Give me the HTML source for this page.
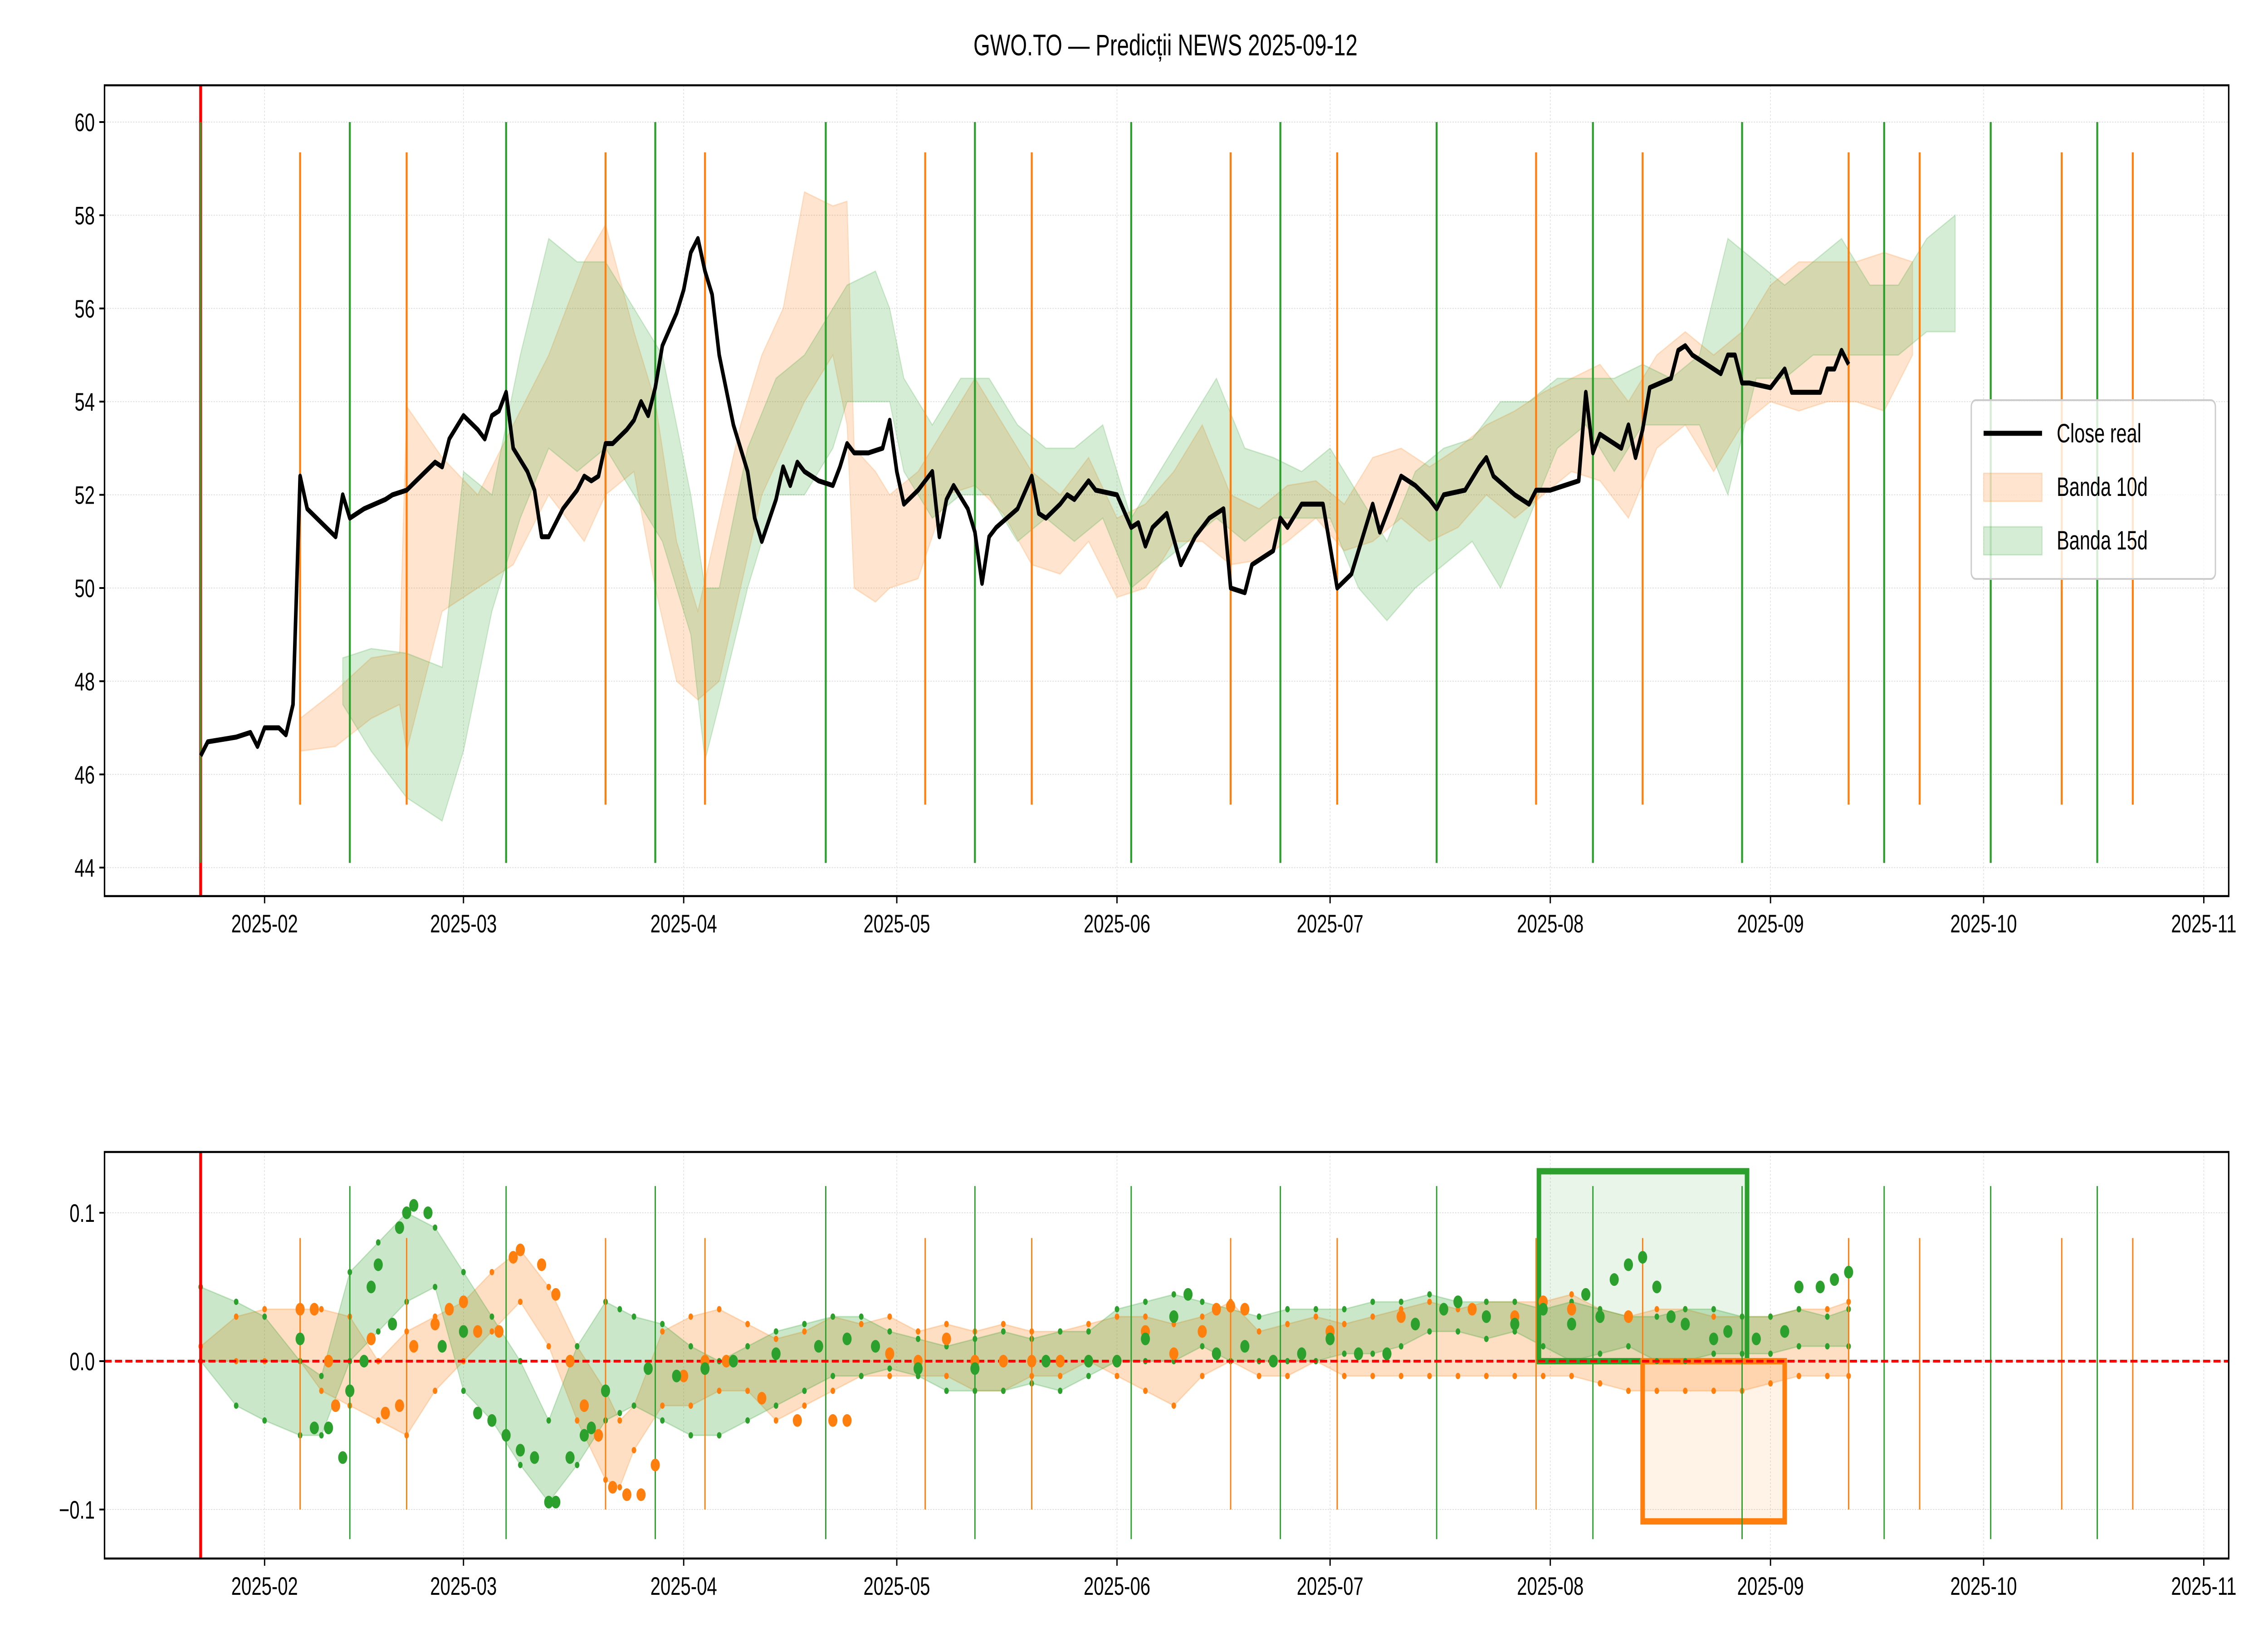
<!DOCTYPE html>
<html><head><meta charset="utf-8">
<style>html,body{margin:0;padding:0;background:#fff;width:100%;height:100%;overflow:hidden}svg{display:block;width:100vw;height:100vh}text{font-family:"Liberation Sans","DejaVu Sans",sans-serif}</style>
</head><body>
<svg id="chart" viewBox="0 0 6986 3619" preserveAspectRatio="none" xmlns="http://www.w3.org/2000/svg">
<rect width="6986" height="3619" fill="#fff"/>
<text x="3590" y="122" font-size="66" text-anchor="middle">GWO.TO — Predicții NEWS 2025-09-12</text>
<g id="gtop"></g><g id="gbot"></g>
</svg>
<script>
// ---- data (days from 2025-02-01) ----
const closeDays=[-9,-8,-6,-4,-2,-1,0,2,3,4,5,6,8,10,11,12,14,17,18,20,22,24,25,26,28,30,31,32,33,34,35,37,38,39,40,42,44,45,46,47,48,49,51,52,53,54,55,56,58,59,60,61,62,63,64,66,67,68,69,70,72,73,74,75,76,78,80,81,82,83,85,87,88,89,90,92,93,94,95,96,97,99,100,101,102,103,106,108,109,110,112,113,114,116,117,120,122,123,124,125,127,129,131,133,135,136,138,139,142,143,144,146,149,151,153,156,157,158,160,162,164,165,166,169,171,172,173,176,178,179,181,185,186,187,188,190,191,192,193,194,195,198,199,200,201,202,205,206,207,208,209,212,214,215,219,220,221,222,223];
const closeVals=[46.4,46.7,46.75,46.8,46.9,46.6,47.0,47.0,46.85,47.5,52.4,51.7,51.4,51.1,52.0,51.5,51.7,51.9,52.0,52.1,52.4,52.7,52.6,53.2,53.7,53.4,53.2,53.7,53.8,54.2,53.0,52.5,52.1,51.1,51.1,51.7,52.1,52.4,52.3,52.4,53.1,53.1,53.4,53.6,54.0,53.7,54.3,55.2,55.9,56.4,57.2,57.5,56.8,56.3,55.0,53.5,53.0,52.5,51.5,51.0,51.9,52.6,52.2,52.7,52.5,52.3,52.2,52.6,53.1,52.9,52.9,53.0,53.6,52.5,51.8,52.1,52.3,52.5,51.1,51.9,52.2,51.7,51.2,50.1,51.1,51.3,51.7,52.4,51.6,51.5,51.8,52.0,51.9,52.3,52.1,52.0,51.3,51.4,50.9,51.3,51.6,50.5,51.1,51.5,51.7,50.0,49.9,50.5,50.8,51.5,51.3,51.8,51.8,50.0,50.3,51.8,51.2,51.6,52.4,52.2,51.9,51.7,52.0,52.1,52.6,52.8,52.4,52.0,51.8,52.1,52.1,52.3,54.2,52.9,53.3,53.1,53.0,53.5,52.8,53.4,54.3,54.5,55.1,55.2,55.0,54.9,54.6,55.0,55.0,54.4,54.4,54.3,54.7,54.2,54.2,54.7,54.7,55.1,54.8];
const b10Days=[5,10,15,19,20,25,30,35,40,45,48,52,55,58,61,64,67,70,73,76,80,82,83,86,88,92,96,100,104,108,112,116,120,124,128,132,136,140,144,148,152,156,160,164,168,172,176,180,184,188,192,196,200,204,208,212,216,220,224,228,232];
const b10Lo=[46.5,46.6,47.2,47.5,46.5,49.5,50,50.5,52,51,52,52.5,50,48,47.6,48,50,52,53,54,55,53.5,50,49.7,50,50.2,52,52.2,51.6,50.5,50.3,51,49.8,50,51,51,50.5,50.6,51,51.5,50.8,51,51.5,51,51.3,52,51.5,52,52.5,52.3,51.5,53,53.5,52.5,53.5,54,53.8,54,54,53.8,55];
const b10Hi=[47.2,47.8,48.5,48.6,53.9,52.8,52,53.5,55,57,57.8,55.5,54,51,49.5,51.5,53.5,55,56,58.5,58.2,58.3,53,52.5,52,52.5,53.5,54.5,53.5,52.5,52,52.8,51.5,51.8,52.5,53.5,52,51.7,52.2,52.3,51.8,52.8,53,52.6,53,53.5,53.8,54.2,54.5,54.8,54,55,55.5,55,55.5,56.5,57,57,57,57.2,57];
const b15Days=[11,15,20,25,28,32,36,40,44,48,52,56,60,62,64,68,72,76,80,82,86,88,90,94,98,102,106,110,114,118,122,126,130,134,138,142,146,150,154,158,162,166,170,174,178,182,186,190,194,198,202,206,210,214,218,222,226,230,234,238];
const b15Lo=[47.5,46.5,45.5,45,46.5,49.5,51.5,53,52.5,53,52,51,49,46.3,47.5,50,52,52,53,54,54,54,52.5,51.5,52,52,51,51.5,51,51.5,50,50.5,51,51.5,51,51.5,51.5,51.5,50,49.3,50,50.5,51,50,51.5,53,53.5,52.5,53.5,53.5,53.5,52,54.5,54.5,55,55,55,55,55.5,55.5];
const b15Hi=[48.5,48.7,48.6,48.3,52.5,52,55,57.5,57,57,56,55,52,50,50,53,54.5,55,56,56.5,56.8,56,54.5,53.5,54.5,54.5,53.5,53,53,53.5,51.5,52.5,53.5,54.5,53,52.8,52.5,53,52,51,52.5,53,53.2,54,54,54.5,54.5,54.5,54.8,54.5,55,57.5,57,56.5,57,57.5,56.5,56.5,57.5,58];
const ev10Days=[5,20,48,62,93,108,136,151,179,194,223,233,253,263];
const ev15Days=[12,34,55,79,100,122,143,165,187,208,228,243,258];
const startDay=-9;
const xTicks=["2025-02","2025-03","2025-04","2025-05","2025-06","2025-07","2025-08","2025-09","2025-10","2025-11"];
const xTickDays=[0,28,59,89,120,150,181,212,242,273];
const yTicksTop=[44,46,48,50,52,54,56,58,60];
const yTicksBot=[-0.1,0.0,0.1];
// bottom panel
const r10Days=[-9,-4,0,5,8,12,16,20,24,28,32,36,40,44,48,50,52,56,60,64,68,72,76,80,84,88,92,96,100,104,108,112,116,120,124,128,132,136,140,144,148,152,156,160,164,168,172,176,180,184,188,192,196,200,204,208,212,216,220,223];
const r10Lo=[0,0,0,0,-0.02,-0.03,-0.04,-0.05,-0.02,0,0.02,0.04,0.01,-0.04,-0.08,-0.085,-0.06,-0.03,-0.03,-0.02,-0.02,-0.04,-0.03,-0.02,-0.01,-0.01,-0.01,-0.01,-0.02,-0.02,-0.01,-0.01,0,-0.01,-0.02,-0.03,-0.01,0,-0.01,-0.01,0,-0.01,-0.01,-0.01,-0.01,-0.01,-0.01,-0.01,-0.01,-0.01,-0.015,-0.02,-0.02,-0.02,-0.02,-0.02,-0.015,-0.01,-0.01,-0.01];
const r10Hi=[0.01,0.03,0.035,0.035,0.035,0.03,0,0.02,0.03,0.04,0.06,0.075,0.05,0.01,-0.02,-0.04,-0.03,0.02,0.03,0.035,0.025,0.015,0.02,0.03,0.025,0.03,0.02,0.025,0.02,0.025,0.02,0.02,0.025,0.03,0.03,0.025,0.03,0.04,0.02,0.025,0.03,0.025,0.03,0.035,0.04,0.035,0.04,0.04,0.04,0.045,0.035,0.03,0.035,0.035,0.03,0.03,0.03,0.035,0.035,0.04];
const r15Days=r10Days;
const r15Lo=[0,-0.03,-0.04,-0.05,-0.05,0,0.02,0.04,0.05,-0.02,-0.04,-0.07,-0.095,-0.07,-0.04,-0.035,-0.03,-0.04,-0.05,-0.05,-0.04,-0.03,-0.02,-0.01,-0.01,-0.005,-0.01,-0.02,-0.02,-0.02,-0.015,-0.02,-0.01,0,0,0,0.01,0,0,0,0,0.005,0.005,0.01,0.02,0.02,0.015,0.02,0.01,0,0.005,0.01,0,0,0.005,0.005,0.005,0.01,0.01,0.01];
const r15Hi=[0.05,0.04,0.03,0,-0.01,0.06,0.08,0.1,0.09,0.06,0.03,0,-0.04,0.01,0.04,0.035,0.03,0.025,0.01,0,0.01,0.02,0.025,0.03,0.03,0.02,0.015,0.01,0.015,0.02,0.015,0.02,0.02,0.035,0.04,0.045,0.04,0.035,0.03,0.035,0.035,0.035,0.04,0.04,0.045,0.04,0.04,0.04,0.035,0.04,0.035,0.03,0.03,0.035,0.035,0.03,0.03,0.035,0.03,0.035];
const dot10Days=[5,7,9,10,12,15,17,19,21,24,26,28,30,33,35,36,39,41,43,45,47,49,51,53,55,59,62,65,70,75,80,82,88,92,96,100,104,108,112,116,120,124,128,132,134,136,138,150,160,170,176,180,184,188,192];
const dot10Vals=[0.035,0.035,0,-0.03,-0.02,0.015,-0.035,-0.03,0.01,0.025,0.035,0.04,0.02,0.02,0.07,0.075,0.065,0.045,0,-0.03,-0.05,-0.085,-0.09,-0.09,-0.07,-0.01,0,0,-0.025,-0.04,-0.04,-0.04,0.005,0,0.015,0,0,0,0,0,0,0.02,0.005,0.02,0.035,0.037,0.035,0.02,0.03,0.035,0.03,0.04,0.035,0.03,0.03];
const dot15Days=[5,7,9,11,12,14,15,16,18,19,20,21,23,25,28,30,32,34,36,38,40,41,43,45,46,48,54,58,62,66,72,78,82,86,92,100,110,116,120,124,128,130,134,138,142,146,150,154,158,162,166,168,172,176,180,184,186,188,190,192,194,196,198,200,204,206,210,214,216,219,221,223];
const dot15Vals=[0.015,-0.045,-0.045,-0.065,-0.02,0,0.05,0.065,0.025,0.09,0.1,0.105,0.1,0.01,0.02,-0.035,-0.04,-0.05,-0.06,-0.065,-0.095,-0.095,-0.065,-0.05,-0.045,-0.02,-0.005,-0.01,-0.005,0,0.005,0.01,0.015,0.01,-0.005,-0.005,0,0,0,0.015,0.03,0.045,0.005,0.01,0,0.005,0.015,0.005,0.005,0.025,0.035,0.04,0.03,0.025,0.035,0.025,0.045,0.03,0.055,0.065,0.07,0.05,0.03,0.025,0.015,0.02,0.015,0.02,0.05,0.05,0.055,0.06];
const rect15=[179.4,208.7,0.128];
const rect10=[194,214,-0.108];

const NS='http://www.w3.org/2000/svg';
const OR='#ff7f0e',GR='#2ca02c';
const AL=322,AR=6865;
const T1=188,B1=1975,T2=2539,B2=3435;
function X(d){return 815+d*21.88;}
function Y1(v){return 269+(60-v)*102.7;}
function Y2(v){return 3000-v*3270;}
function mk(p,tag,a){const e=document.createElementNS(NS,tag);for(const k in a)e.setAttribute(k,a[k]);p.appendChild(e);return e;}
const gTop=document.getElementById('gtop'),gBot=document.getElementById('gbot');

function axesFrame(g,T,B,yt,Y){
  xTickDays.forEach(d=>{const l=mk(g,'line',{x1:X(d),x2:X(d),y1:T,y2:B,stroke:'#ddd','stroke-width':2,'stroke-dasharray':'4 4'});
  
  });
  yt.forEach(v=>{const l=mk(g,'line',{x1:AL,x2:AR,y1:Y(v),y2:Y(v),stroke:'#ddd','stroke-width':2,'stroke-dasharray':'4 4'});
  
  });
}
function axesTicks(g,T,B,yt,Y,fmt,nm){
  const fr=mk(g,'rect',{x:AL,y:T,width:AR-AL,height:B-T,fill:'none',stroke:'#000','stroke-width':4.5});
  
  
  xTickDays.forEach((d,i)=>{mk(g,'line',{x1:X(d),x2:X(d),y1:B,y2:B+16,stroke:'#000','stroke-width':4});
    const t=mk(g,'text',{x:X(d),y:B+80,'font-size':56,'text-anchor':'middle'});t.textContent=xTicks[i];
    
    });
  yt.forEach(v=>{mk(g,'line',{x1:AL-16,x2:AL,y1:Y(v),y2:Y(v),stroke:'#000','stroke-width':4});
    const t=mk(g,'text',{x:AL-30,y:Y(v)+20,'font-size':56,'text-anchor':'end'});t.textContent=fmt(v);
    
    });
}
function band(g,days,lo,hi,Y,col,op,nm){
  let d='M'+days.map((x,i)=>X(x)+','+Y(hi[i])).join('L');
  for(let i=days.length-1;i>=0;i--)d+='L'+X(days[i])+','+Y(lo[i]);
  const p=mk(g,'path',{d:d+'Z',fill:col,'fill-opacity':op,stroke:col,'stroke-opacity':op,'stroke-width':3});
  
  
}
// ---- TOP ----
axesFrame(gTop,T1,B1,yTicksTop,Y1);
band(gTop,b10Days,b10Lo,b10Hi,Y1,OR,0.2,'band-10d');
band(gTop,b15Days,b15Lo,b15Hi,Y1,GR,0.2,'band-15d');
ev10Days.forEach(d=>{const l=mk(gTop,'line',{x1:X(d),x2:X(d),y1:Y1(59.35),y2:Y1(45.35),stroke:OR,'stroke-width':6});
  
  });
ev15Days.forEach(d=>{const l=mk(gTop,'line',{x1:X(d),x2:X(d),y1:Y1(60),y2:Y1(44.1),stroke:GR,'stroke-width':6});
  
  });
{const l=mk(gTop,'line',{x1:X(startDay),x2:X(startDay),y1:T1,y2:B1,stroke:'#f00','stroke-width':9});
 
 
 const l2=mk(gTop,'line',{x1:X(startDay),x2:X(startDay),y1:Y1(60),y2:Y1(44.1),stroke:GR,'stroke-width':5});
 
 }
{const p=mk(gTop,'path',{d:'M'+closeDays.map((d,i)=>X(d)+','+Y1(closeVals[i])).join('L'),fill:'none',stroke:'#000','stroke-width':11,'stroke-linejoin':'round'});
 
 }
axesTicks(gTop,T1,B1,yTicksTop,Y1,v=>String(v),'top');
// legend
{const g=mk(gTop,'g',{});
 
 
 mk(g,'rect',{x:6072,y:882,width:752,height:394,rx:14,fill:'#fff','fill-opacity':0.8,stroke:'#ccc','stroke-width':4});
 const items=[['Close real','line','#000'],['Banda 10d','patch',OR],['Banda 15d','patch',GR]];
 items.forEach((it,i)=>{const y=955+i*118;
  const e=mk(g,'g',{});
  
  
  if(it[1]=='line')mk(e,'line',{x1:6110,x2:6290,y1:y,y2:y,stroke:'#000','stroke-width':11});
  else mk(e,'rect',{x:6110,y:y-30,width:180,height:62,fill:it[2],'fill-opacity':0.2,stroke:it[2],'stroke-opacity':0.2,'stroke-width':3});
  const t=mk(e,'text',{x:6335,y:y+20,'font-size':58});t.textContent=it[0];});
}
// ---- BOTTOM ----
axesFrame(gBot,T2,B2,yTicksBot,Y2);
band(gBot,r10Days,r10Lo,r10Hi,Y2,OR,0.25,'residual-band-10d');
band(gBot,r15Days,r15Lo,r15Hi,Y2,GR,0.25,'residual-band-15d');
function rectBox(r,col,nm){const x1=X(r[0]),x2=X(r[1]),y0=Y2(0),y1=Y2(r[2]);
 const e=mk(gBot,'rect',{x:x1,y:Math.min(y0,y1),width:x2-x1,height:Math.abs(y1-y0),fill:col,'fill-opacity':0.1,stroke:col,'stroke-width':14});
 
 }
rectBox(rect15,GR,'window-box-15d');
rectBox(rect10,OR,'window-box-10d');
function edgeMarks(days,vals,col,nm){days.forEach((d,i)=>{const c=mk(gBot,'circle',{cx:X(d),cy:Y2(vals[i]),r:7,fill:col});
 
 });}
edgeMarks(r10Days,r10Lo,OR,'band-10d-marker');edgeMarks(r10Days,r10Hi,OR,'band-10d-marker');
edgeMarks(r15Days,r15Lo,GR,'band-15d-marker');edgeMarks(r15Days,r15Hi,GR,'band-15d-marker');
ev10Days.forEach(d=>{const l=mk(gBot,'line',{x1:X(d),x2:X(d),y1:Y2(0.083),y2:Y2(-0.1),stroke:OR,'stroke-width':4});
  
  });
ev15Days.forEach(d=>{const l=mk(gBot,'line',{x1:X(d),x2:X(d),y1:Y2(0.118),y2:Y2(-0.12),stroke:GR,'stroke-width':4});
  
  });
{const l=mk(gBot,'line',{x1:AL,x2:AR,y1:Y2(0),y2:Y2(0),stroke:'#f00','stroke-width':6,'stroke-dasharray':'22 10'});
 
 }
dot10Days.forEach((d,i)=>{const c=mk(gBot,'circle',{cx:X(d),cy:Y2(dot10Vals[i]),r:14,fill:OR});
 
 });
dot15Days.forEach((d,i)=>{const c=mk(gBot,'circle',{cx:X(d),cy:Y2(dot15Vals[i]),r:14,fill:GR});
 
 });
{const l=mk(gBot,'line',{x1:X(startDay),x2:X(startDay),y1:T2,y2:B2,stroke:'#f00','stroke-width':9});
 
 }
axesTicks(gBot,T2,B2,yTicksBot,Y2,v=>v.toFixed(1).replace('-','−'),'bottom');
</script>
</body></html>
